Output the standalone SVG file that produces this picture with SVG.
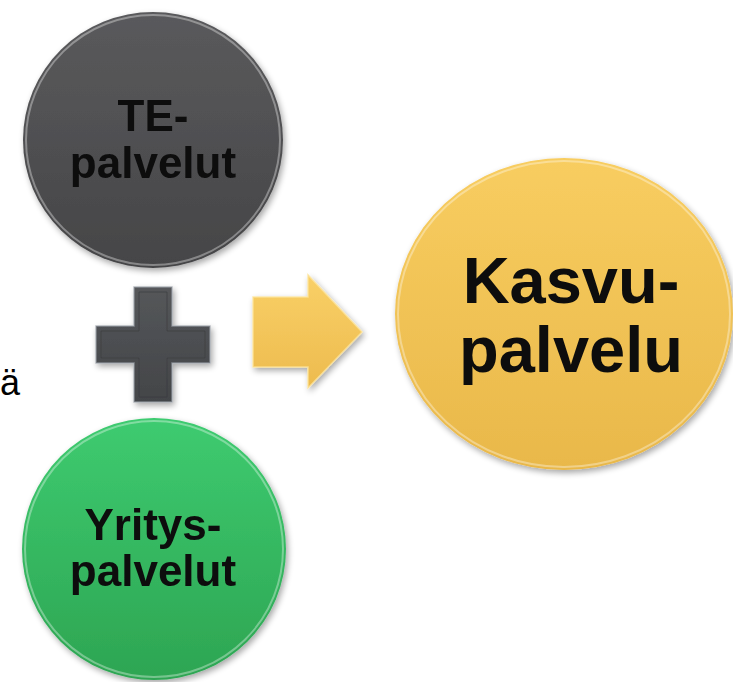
<svg xmlns="http://www.w3.org/2000/svg" width="733" height="682" viewBox="0 0 733 682">
<style>
.lbl{font-family:"Liberation Sans",Arial,sans-serif;font-weight:bold;fill:#0d0d0d;text-anchor:middle}
.rim{fill:none;stroke:#ffffff;stroke-opacity:0.35;stroke-width:2}
</style>
<defs>
<linearGradient id="gGray" x1="0" y1="0" x2="0" y2="1">
<stop offset="0" stop-color="#5a5a5c"/><stop offset="1" stop-color="#454547"/>
</linearGradient>
<linearGradient id="gGreen" x1="0" y1="0" x2="0" y2="1">
<stop offset="0" stop-color="#3ecb70"/><stop offset="1" stop-color="#2da552"/>
</linearGradient>
<linearGradient id="gYellow" x1="0" y1="0" x2="0" y2="1">
<stop offset="0" stop-color="#f8cd60"/><stop offset="1" stop-color="#e9b84a"/>
</linearGradient>
<linearGradient id="gArrow" x1="0" y1="0" x2="0" y2="1">
<stop offset="0" stop-color="#f9d067"/><stop offset="1" stop-color="#edbb4e"/>
</linearGradient>
<linearGradient id="gPlus" x1="0" y1="0" x2="0" y2="1">
<stop offset="0" stop-color="#55575a"/><stop offset="1" stop-color="#434548"/>
</linearGradient>
<filter id="sh" x="-20%" y="-20%" width="140%" height="140%">
<feGaussianBlur in="SourceAlpha" stdDeviation="3"/>
<feOffset dx="2" dy="3"/>
<feComponentTransfer><feFuncA type="linear" slope="0.35"/></feComponentTransfer>
<feMerge><feMergeNode/><feMergeNode in="SourceGraphic"/></feMerge>
</filter>
</defs>

<text x="0" y="395" font-family="'Liberation Sans',Arial,sans-serif" font-size="36" fill="#000">ä</text>

<g id="te-palvelut" filter="url(#sh)">
<ellipse cx="153" cy="140" rx="130" ry="128" fill="url(#gGray)"/>
<ellipse cx="153" cy="140" rx="127" ry="125" class="rim"/>
<text class="lbl" x="153" y="131" font-size="44">TE-</text>
<text class="lbl" x="153" y="178" font-size="44">palvelut</text>
</g>

<g id="yrityspalvelut" filter="url(#sh)">
<ellipse cx="154" cy="549" rx="132" ry="131" fill="url(#gGreen)"/>
<ellipse cx="154" cy="549" rx="129" ry="128" class="rim"/>
<text class="lbl" x="153" y="540" font-size="44">Yritys-</text>
<text class="lbl" x="153" y="586" font-size="44">palvelut</text>
</g>

<g id="kasvupalvelu" filter="url(#sh)">
<ellipse cx="564" cy="314" rx="169" ry="156" fill="url(#gYellow)"/>
<ellipse cx="564" cy="314" rx="166" ry="153" class="rim"/>
<text class="lbl" x="571" y="303" font-size="65">Kasvu-</text>
<text class="lbl" x="571" y="372" font-size="65">palvelu</text>
</g>

<g id="connectors">
<g id="plus" filter="url(#sh)">
<path d="M134,287 H172 V326 H210 V363 H172 V402 H134 V363 H96 V326 H134 Z" fill="url(#gPlus)"/>
<path d="M134,287 H172 V326 H210 V363 H172 V402 H134 V363 H96 V326 H134 Z" fill="none" stroke="#9aa0a6" stroke-width="1.5" stroke-opacity="0.7"/>
<path d="M139,292 H167 V331 H205 V358 H167 V397 H139 V358 H101 V331 H139 Z" fill="none" stroke="#3a3b3d" stroke-width="1" stroke-opacity="0.6"/>
</g>
<g id="arrow" filter="url(#sh)">
<path d="M253,297 H308 V275 L362,332 L308,388 V367 H253 Z" fill="url(#gArrow)"/>
<path d="M253,297 H308 V275 L362,332 L308,388 V367 H253 Z" fill="none" stroke="#fde39a" stroke-width="1.5" stroke-opacity="0.8"/>
</g>
</g>
</svg>
